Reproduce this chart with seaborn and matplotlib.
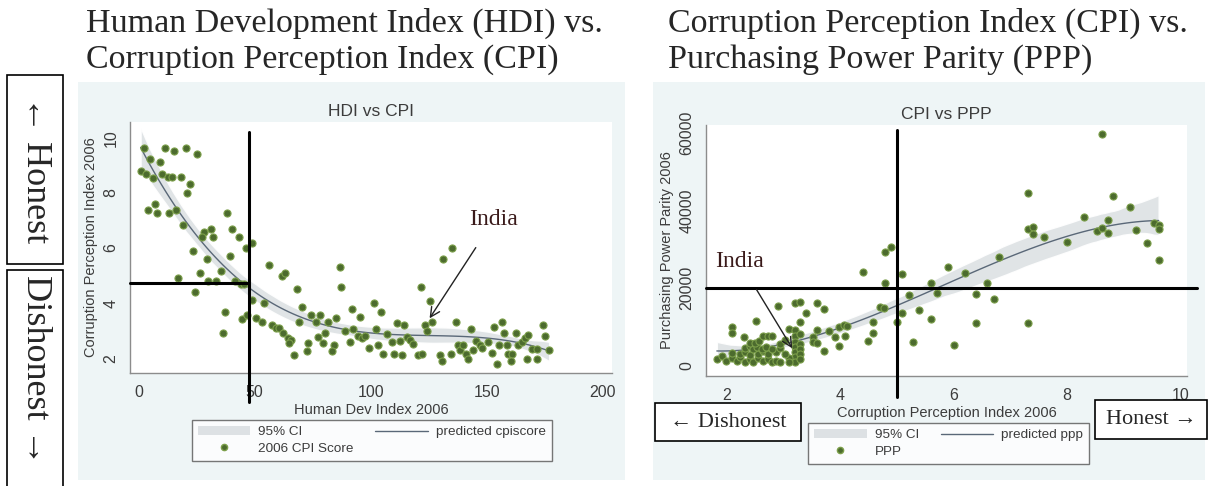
import matplotlib
matplotlib.use("Agg")
import matplotlib.pyplot as plt
from matplotlib.patches import Rectangle, Patch
from matplotlib.lines import Line2D
import seaborn as sns

# HDI rank vs CPI score (left panel)
hdi_rank = [2.3, 11.4, 15.4, 20.3, 25.0, 4.9, 9.2, 0.9, 3.1, 6.3, 10.2, 12.5, 14.3, 18.3, 22.3, 21.0,
            4.2, 7.1, 8.1, 13.2, 16.1, 38.2, 19.3, 28.2, 31.2, 27.2, 32.2, 40.1, 43.3, 48.7, 46.1, 23.3,
            39.4, 29.3, 56.2, 86.8, 61.6, 63.1, 26.5, 35.5, 16.8, 30.0, 33.2, 41.5, 44.1, 45.5, 87.2, 24.3,
            68.4, 48.7, 54.2, 70.3, 92.1, 37.2, 44.4, 46.6, 50.6, 53.3, 57.3, 59.2, 60.5, 62.3, 64.5, 65.9,
            64.9, 67.1, 69.1, 74.1, 76.3, 78.4, 81.7, 85.0, 77.4, 80.3, 73.1, 79.6, 72.4, 84.3, 83.4, 88.9,
            91.2, 92.2, 36.2,
            135.2, 131.0, 121.5, 125.5, 123.4, 126.5, 124.1, 95.4, 101.4, 104.3, 94.7, 96.1, 97.5, 99.3,
            102.1, 103.3, 105.4, 107.2, 109.0, 110.0, 111.2, 112.6, 113.4, 114.5, 115.5, 116.9, 118.4, 120.2,
            122.2, 129.8, 130.6, 134.6, 136.6, 137.8, 138.6, 140.0, 141.0, 141.8, 143.2, 144.2, 145.6, 147.0,
            148.1, 150.4, 152.1, 153.3, 154.3, 155.3, 156.4, 157.6, 159.3, 160.7, 160.4, 158.6, 162.6, 163.6,
            165.0, 166.5, 167.6, 167.2, 169.4, 171.5, 171.5, 174.4, 175.1, 176.9]
cpi_score = [9.63, 9.63, 9.53, 9.63, 9.42, 9.23, 9.12, 8.81, 8.70, 8.53, 8.68, 8.59, 8.59, 8.59, 8.33, 8.01,
             7.39, 7.59, 7.28, 7.28, 7.39, 7.28, 6.84, 6.59, 6.69, 6.39, 6.39, 6.69, 6.39, 6.17, 5.99, 5.90,
             5.71, 5.60, 5.38, 5.30, 5.00, 5.08, 5.08, 5.17, 4.90, 4.80, 4.80, 4.80, 4.69, 4.69, 4.59, 4.41,
             4.51, 4.10, 3.99, 3.87, 3.78, 3.69, 3.42, 3.56, 3.47, 3.30, 3.20, 3.10, 3.10, 2.90, 2.72, 2.68,
             2.57, 2.11, 3.32, 3.56, 3.32, 3.56, 3.30, 3.47, 2.77, 2.90, 2.57, 2.57, 2.26, 2.47, 2.26, 2.99,
             2.60, 3.08, 2.90,
             5.99, 5.60, 4.59, 4.08, 3.20, 3.30, 2.99, 3.50, 3.99, 3.69, 2.81, 2.72, 2.81, 2.37,
             3.08, 2.47, 2.17, 2.87, 2.60, 2.17, 3.28, 2.62, 2.11, 3.20, 2.77, 2.65, 2.53, 2.11,
             2.17, 2.11, 1.89, 2.17, 3.30, 2.47, 2.29, 2.47, 2.17, 1.98, 3.08, 2.29, 2.62, 2.47,
             2.37, 2.60, 2.19, 3.14, 1.80, 2.50, 3.30, 2.90, 2.17, 2.17, 1.89, 2.50, 2.90, 2.47,
             2.60, 2.72, 2.84, 1.98, 2.35, 2.35, 1.98, 3.20, 2.81, 2.29]

# CPI score vs PPP (right panel)
cpi_x = [8.62, 7.31, 8.82, 9.12, 8.31, 8.72, 7.32, 7.41, 7.40, 7.60, 8.01, 8.53, 8.62, 8.72, 9.22, 9.41,
         6.81, 6.21, 5.90, 4.80, 4.90, 5.10, 4.80, 5.60, 6.60, 5.71, 5.21, 6.40, 6.71, 4.70, 4.78, 5.40,
         5.10, 4.59, 5.00, 5.60, 6.40, 7.31, 4.59, 5.29, 6.01, 4.50, 9.54, 9.62, 9.62, 9.62, 4.40,
         1.83, 1.92, 2.00, 2.09, 2.18, 2.24, 2.33, 2.41, 2.47, 2.56, 2.65, 2.74, 2.80, 2.88, 2.94,
         2.09, 2.24, 2.33, 2.41, 2.56, 2.65, 2.74, 2.88,
         2.33, 2.41, 2.47, 2.53, 2.62, 2.70, 2.80, 2.94,
         2.41, 2.50, 2.58, 2.94, 3.03,
         2.64, 2.74, 2.81, 2.30, 2.10, 2.10, 2.52, 3.11,
         3.21, 3.21, 3.21, 3.21, 3.21, 3.21, 3.21, 3.30, 3.30, 3.30, 3.30, 3.30, 3.30, 3.11, 3.11, 3.03,
         2.91, 3.21, 3.30, 3.60, 3.72, 3.40, 3.52, 3.52, 3.60, 3.80, 3.91, 3.99, 4.07, 4.12, 4.09, 3.99,
         3.72, 3.60]
ppp = [59700, 44400, 43800, 40800, 38250, 37550, 35150, 35850, 33900, 33100, 31900, 34800, 35400, 34150, 35000, 31700,
       28100, 24000, 25400, 29250, 30550, 23650, 21450, 21450, 21450, 18850, 18250, 18500, 17250, 15250, 14850, 14400,
       13550, 11400, 11250, 12150, 11150, 11150, 8400, 6150, 5400, 6500, 36850, 36250, 35150, 27250, 24300,
       1700, 2500, 1400, 2000, 1200, 2400, 1000, 1800, 1100, 2000, 1200, 1800, 1000, 1400, 1100,
       3300, 3000, 3600, 2900, 3200, 3800, 3000, 3500,
       4600, 5200, 4500, 5000, 4300, 4800, 4400, 4600,
       6000, 5800, 6400, 5650, 6700,
       7700, 7700, 7700, 7400, 9950, 8550, 11650, 9500,
       9250, 7700, 6250, 4950, 3700, 2400, 1100, 8300, 5600, 4300, 3000, 1800, 11400, 2000, 1000, 3000,
       15450, 16300, 16550, 16300, 14600, 13550, 7400, 6250, 9250, 9100, 7400, 9950, 10550, 10300, 7700, 5150,
       3950, 6000]

W, H = 1208, 486
GREEN = "#4c6b2e"
EDGE = "#7c9f4a"
LINE = "#5a6878"
BAND = "#dde1e4"
AXIS = "#8c8c8c"
TXT = "#3c3c3c"
SERIF = ["Liberation Serif", "DejaVu Serif"]

sns.set_style("white")
plt.rcParams["font.family"] = ["Liberation Sans", "DejaVu Sans"]


def fx(px):
    return px / W


def fy(py):
    return 1 - py / H


def stata_panel(ax, x, y, title, xlabel, ylabel, xticks, yticks, xlim, ylim, leg_labels, leg_center):
    ax.set_facecolor("white")
    sns.regplot(x=x, y=y, ax=ax, order=3, scatter=False, ci=95, n_boot=500, seed=1,
                color=LINE, line_kws={"lw": 1.0, "zorder": 3})
    for coll in ax.collections:
        coll.set_facecolor(BAND)
        coll.set_alpha(0.9)
        coll.set_zorder(1)
    sns.scatterplot(x=x, y=y, ax=ax, color=GREEN, edgecolor=EDGE, linewidth=0.8, s=26, zorder=4)
    ax.set_xlim(*xlim)
    ax.set_ylim(*ylim)
    ax.set_xticks(xticks)
    ax.set_yticks(yticks)
    for s in ["top", "right"]:
        ax.spines[s].set_visible(False)
    for s in ["left", "bottom"]:
        ax.spines[s].set_color(AXIS)
        ax.spines[s].set_linewidth(1.0)
    ax.tick_params(direction="out", length=5, width=1, color=AXIS, labelcolor=TXT, labelsize=11.5)
    plt.setp(ax.get_yticklabels(), rotation=90, va="center")
    ax.set_xlabel(xlabel, fontsize=10.5, color=TXT, labelpad=2)
    ax.set_ylabel(ylabel, fontsize=10.5, color=TXT, labelpad=4)
    ax.set_title(title, fontsize=12.5, color=TXT, pad=4)
    handles = [Patch(facecolor=BAND, edgecolor="none"),
               Line2D([], [], ls="none", marker="o", ms=4.5, color=GREEN, mec=EDGE),
               Line2D([], [], color=LINE, lw=1.0)]
    ax.legend(handles, leg_labels, ncol=2, loc="center", bbox_to_anchor=leg_center,
              bbox_transform=ax.figure.transFigure, frameon=True, fancybox=False,
              edgecolor="#555555", fontsize=9.7, handlelength=3.9, handletextpad=0.6,
              columnspacing=1.6, labelspacing=0.3, borderpad=0.45, labelcolor=TXT)


fig = plt.figure(figsize=(W / 100, H / 100), dpi=100)

# Stata graph regions (light blue)
for x0, x1 in [(78, 625), (653, 1205)]:
    fig.add_artist(Rectangle((fx(x0), fy(480)), fx(x1 - x0), (480 - 82) / H,
                             transform=fig.transFigure, facecolor="#eef5f6", edgecolor="none", zorder=0))

ax1 = fig.add_axes([fx(130.4), fy(373), fx(611.8 - 130.4), (373 - 122) / H])
ax2 = fig.add_axes([fx(706.3), fy(376), fx(1187 - 706.3), (376 - 125) / H])

stata_panel(ax1, hdi_rank, cpi_score, "HDI vs CPI", "Human Dev Index 2006", "Corruption Perception Index 2006",
            [0, 50, 100, 150, 200], [2, 4, 6, 8, 10], (-3.5, 203.9), (1.467, 10.57),
            ["95% CI", "2006 CPI Score", "predicted cpiscore"], (fx(371.6), fy(440.5)))
stata_panel(ax2, cpi_x, ppp, "CPI vs PPP", "Corruption Perception Index 2006", "Purchasing Power Parity 2006",
            [2, 4, 6, 8, 10], [0, 20000, 40000, 60000], (1.644, 10.12), (-2572, 62000),
            ["95% CI", "PPP", "predicted ppp"], (fx(948.7), fy(443.5)))

# black quadrant lines drawn over the graphs
ax1.plot([47.6, 47.6], [0.415, 10.2], color="black", lw=2.2, clip_on=False, zorder=6)
ax1.plot([-3.5, 47.6], [4.74, 4.74], color="black", lw=2.2, clip_on=False, zorder=6)
ax2.plot([5.0, 5.0], [-7900, 60700], color="black", lw=2.2, clip_on=False, zorder=6)
ax2.plot([1.644, 10.3], [20000, 20000], color="black", lw=2.2, clip_on=False, zorder=6)

# India annotations
ax1.annotate("India", xy=(125.4, 3.45), xytext=(153.1, 7.02), fontsize=17, family=SERIF, color="#3a1a1a",
             ha="center", va="center", zorder=7,
             arrowprops=dict(arrowstyle="->", color="#222222", lw=1.0, shrinkA=12, shrinkB=0))
ax2.annotate("India", xy=(3.16, 4550), xytext=(2.23, 26830), fontsize=17, family=SERIF, color="#3a1a1a",
             ha="center", va="center", zorder=7,
             arrowprops=dict(arrowstyle="->", color="#222222", lw=1.0, shrinkA=12, shrinkB=0))

# serif headings
fig.text(fx(85.6), fy(32), "Human Development Index (HDI) vs.", family=SERIF, fontsize=24.5, va="baseline")
fig.text(fx(85.6), fy(68), "Corruption Perception Index (CPI)", family=SERIF, fontsize=24.5, va="baseline")
fig.text(fx(667.6), fy(32), "Corruption Perception Index (CPI) vs.", family=SERIF, fontsize=24.5, va="baseline")
fig.text(fx(667.6), fy(68), "Purchasing Power Parity (PPP)", family=SERIF, fontsize=24.5, va="baseline")

# honest / dishonest boxes
boxes = [((7, 75, 63, 264), "← Honest", -90, 26),
         ((7, 270, 63, 490), "Dishonest →", -90, 26),
         ((654.5, 403, 801, 441), "← Dishonest", 0, 16),
         ((1094.7, 400, 1207, 439), "Honest →", 0, 16)]
for (x0, y0, x1, y1), label, rot, size in boxes:
    fig.add_artist(Rectangle((fx(x0), fy(y1)), fx(x1 - x0), (y1 - y0) / H, transform=fig.transFigure,
                             facecolor="white", edgecolor="black", lw=1.2, zorder=5))
    fig.text(fx((x0 + x1) / 2), fy((y0 + min(y1, 470)) / 2), label, family=SERIF, fontsize=size,
             rotation=rot, ha="center", va="center", zorder=6)

fig.savefig("out.png", dpi=100)
